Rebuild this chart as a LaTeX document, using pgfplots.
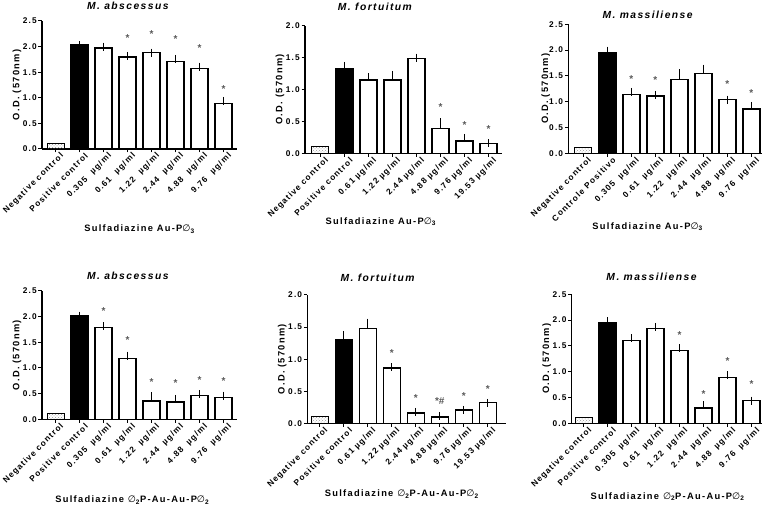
\documentclass[border=0pt]{standalone}
\usepackage{pgfplots}
\pgfplotsset{compat=1.18}
\usepackage{fontspec}
\usetikzlibrary{patterns}
\setmainfont{Liberation Sans}
\newfontfamily\lab[LetterSpace=14]{Liberation Sans}
\newfontfamily\dvs{DejaVu Sans}
\newcommand\tickfont{\lab\bfseries\fontsize{8.3}{9}\selectfont}
\newcommand\labfont{\lab\bfseries\fontsize{9.3}{11}\selectfont}
\newcommand\titfont{\lab\bfseries\itshape\fontsize{10.3}{12}\selectfont}
\newcommand\ophi{{\dvs\mdseries ∅}}
\pgfplotsset{
  panel/.style={
    scale only axis, anchor=south west,
    axis lines=left, axis line style={-, line width=1.4pt},
    enlargelimits=false, ymin=0, clip=false,
    xtick={0,...,7}, tick align=outside, major tick length=3.5pt,
    tick style={black, line width=1pt},
    /pgf/number format/assume math mode=true,
    ticklabel style={font=\tickfont},
    x tick label style={xshift=8pt, yshift=-1pt, rotate=45, anchor=east, inner sep=1.5pt},
    y tick label style={inner sep=1.5pt},
    yticklabel style={/pgf/number format/.cd, fixed, fixed zerofill, precision=1},
    ytick distance=0.5,
    bar width=17pt,
    title style={font=\titfont, anchor=center},
    xlabel style={font=\labfont, anchor=center},
    ylabel style={font=\labfont, anchor=center, at={(rel axis cs:0,0.5)}, yshift=25pt},
    ylabel={O.D. (570nm)},
  },
  negbar/.style={ybar, bar shift=0pt, draw=black, line width=0.8pt, pattern=crosshatch dots, pattern color=gray!80},
  posbar/.style={ybar, bar shift=0pt, draw=black, fill=black, line width=1.4pt,
    error bars/.cd, y dir=plus, y explicit, error bar style={black, line width=1.1pt},
    error mark options={black, line width=1.1pt, mark size=4pt}},
  whbar/.style={ybar, bar shift=0pt, draw=black, fill=white, line width=1.4pt,
    error bars/.cd, y dir=plus, y explicit, error bar style={black, line width=1.1pt},
    error mark options={black, line width=1.1pt, mark size=4pt}},
  stars/.style={draw=none, mark=none, nodes near coords, point meta=explicit symbolic,
    nodes near coords align=center,
    every node near coord/.append style={font=\bfseries\fontsize{10}{10}\selectfont, text=gray!70!black, inner sep=0pt}},
}
\begin{document}
\begin{tikzpicture}[x=1pt,y=1pt]
\path[use as bounding box] (0,0) rectangle (766,506);

% Panel 1
\begin{axis}[panel, at={(42pt,357pt)}, width=195pt, height=128pt,
  xmin=-0.5625, xmax=7.5625, ymax=2.5,
  xticklabels={Negative control, Positive control, 0.305\ \ µg/ml, 0.61\ \ µg/ml, 1.22\ \ µg/ml, 2.44\ \ µg/ml, 4.88\ \ µg/ml, 9.76\ \ µg/ml},
  title={M. abscessus}, title style={at={(rel axis cs:0.44,1)}, yshift=9pt},
  xlabel={Sulfadiazine Au-P\ophi\textsubscript{3}}, xlabel style={at={(rel axis cs:0.5,0)}, yshift=-80pt}]
\addplot[negbar] coordinates {(0,0.10)};
\addplot[posbar] coordinates {(1,2.03) +- (0,0)};
\addplot[whbar] coordinates {(2,1.97) +- (0,0.03) (3,1.80) +- (0,0.02) (4,1.88) +- (0,0) (5,1.71) +- (0,0.05) (6,1.57) +- (0,0.04) (7,0.89) +- (0,0.05)};
\addplot[stars] coordinates {(3,2.17) [*] (4,2.24) [*] (5,2.15) [*] (6,1.98) [*] (7,1.17) [*]};
\end{axis}

% Panel 2
\begin{axis}[panel, at={(305pt,352.7pt)}, width=197pt, height=127.6pt,
  xmin=-0.64, xmax=7.56, ymax=2.0,
  xticklabels={Negative control, Positive control, 0.61 µg/ml, 1.22 µg/ml, 2.44 µg/ml, 4.88 µg/ml, 9.76 µg/ml, 19.53 µg/ml},
  title={M. fortuitum}, title style={at={(rel axis cs:0.355,1)}, yshift=13pt},
  xlabel={Sulfadiazine Au-P\ophi\textsubscript{3}}, xlabel style={at={(rel axis cs:0.385,0)}, yshift=-68.4pt}]
\addplot[negbar] coordinates {(0,0.11)};
\addplot[posbar] coordinates {(1,1.32) +- (0,0.05)};
\addplot[whbar] coordinates {(2,1.15) +- (0,0.04) (3,1.15) +- (0,0.08) (4,1.49) +- (0,0.01) (5,0.39) +- (0,0.10) (6,0.19) +- (0,0.05) (7,0.15) +- (0,0.01)};
\addplot[stars] coordinates {(5,0.72) [*] (6,0.44) [*] (7,0.38) [*]};
\end{axis}

% Panel 3
\begin{axis}[panel, at={(568.3pt,352.7pt)}, width=193.4pt, height=129pt,
  xmin=-0.625, xmax=7.43, ymax=2.5,
  xticklabels={Negative control, Controle Positivo, 0.305\ \ µg/ml, 0.61\ \ µg/ml, 1.22\ \ µg/ml, 2.44\ \ µg/ml, 4.88\ \ µg/ml, 9.76\ \ µg/ml},
  title={M. massiliense}, title style={at={(rel axis cs:0.41,1)}, yshift=3.6pt},
  ylabel style={yshift=-2.5pt},
  xlabel={Sulfadiazine Au-P\ophi\textsubscript{3}}, xlabel style={at={(rel axis cs:0.41,0)}, yshift=-73.4pt}]
\addplot[negbar] coordinates {(0,0.12)};
\addplot[posbar] coordinates {(1,1.95) +- (0,0.04)};
\addplot[whbar] coordinates {(2,1.14) +- (0,0.05) (3,1.11) +- (0,0.02) (4,1.43) +- (0,0.12) (5,1.55) +- (0,0.09) (6,1.04) +- (0,0) (7,0.86) +- (0,0.06)};
\addplot[stars] coordinates {(2,1.44) [*] (3,1.41) [*] (6,1.34) [*] (7,1.16) [*]};
\end{axis}

% Panel 4
\begin{axis}[panel, at={(42pt,86.7pt)}, width=195pt, height=128.3pt,
  xmin=-0.5625, xmax=7.5625, ymax=2.5,
  xticklabels={Negative control, Positive control, 0.305\ \ µg/ml, 0.61\ \ µg/ml, 1.22\ \ µg/ml, 2.44\ \ µg/ml, 4.88\ \ µg/ml, 9.76\ \ µg/ml},
  title={M. abscessus}, title style={at={(rel axis cs:0.44,1)}, yshift=9.3pt},
  xlabel={Sulfadiazine \ophi\textsubscript{2}P-Au-Au-P\ophi\textsubscript{2}}, xlabel style={at={(rel axis cs:0.463,0)}, yshift=-80.7pt}]
\addplot[negbar] coordinates {(0,0.11)};
\addplot[posbar] coordinates {(1,2.01) +- (0,0.01)};
\addplot[whbar] coordinates {(2,1.79) +- (0,0.02) (3,1.19) +- (0,0.05) (4,0.36) +- (0,0.09) (5,0.34) +- (0,0.06) (6,0.46) +- (0,0.03) (7,0.43) +- (0,0.03)};
\addplot[stars] coordinates {(2,2.10) [*] (3,1.55) [*] (4,0.73) [*] (5,0.70) [*] (6,0.77) [*] (7,0.75) [*]};
\end{axis}

% Panel 5
\begin{axis}[panel, at={(307.3pt,82.7pt)}, width=198.4pt, height=128.3pt,
  xmin=-0.52, xmax=7.75, ymax=2.0,
  xticklabels={Negative control, Positive control, 0.61 µg/ml, 1.22 µg/ml, 2.44 µg/ml, 4.88 µg/ml, 9.76 µg/ml, 19.53 µg/ml},
  title={M. fortuitum}, title style={at={(rel axis cs:0.354,1)}, yshift=11.5pt},
  xlabel={Sulfadiazine \ophi\textsubscript{2}P-Au-Au-P\ophi\textsubscript{2}}, xlabel style={at={(rel axis cs:0.476,0)}, yshift=-70.8pt}]
\addplot[negbar] coordinates {(0,0.10)};
\addplot[posbar] coordinates {(1,1.31) +- (0,0.07)};
\addplot[whbar] coordinates {(2,1.48) +- (0,0.09) (3,0.86) +- (0,0.01) (4,0.16) +- (0,0.02) (5,0.10) +- (0,0.01) (6,0.21) +- (0,0) (7,0.32) +- (0,0)};
\addplot[stars] coordinates {(3,1.10) [*] (4,0.40) [*] (5,0.34) [*\#] (6,0.43) [*] (7,0.54) [*]};
\end{axis}

% Panel 6
\begin{axis}[panel, at={(571.7pt,82.7pt)}, width=190pt, height=129pt,
  xmin=-0.5, xmax=7.42, ymax=2.5,
  xticklabels={Negative control, Positive control, 0.305\ \ µg/ml, 0.61\ \ µg/ml, 1.22\ \ µg/ml, 2.44\ \ µg/ml, 4.88\ \ µg/ml, 9.76\ \ µg/ml},
  title={M. massiliense}, title style={at={(rel axis cs:0.42,1)}, yshift=11.6pt},
  xlabel={Sulfadiazine \ophi\textsubscript{2}P-Au-Au-P\ophi\textsubscript{2}}, xlabel style={at={(rel axis cs:0.504,0)}, yshift=-73.4pt}]
\addplot[negbar] coordinates {(0,0.12)};
\addplot[posbar] coordinates {(1,1.94) +- (0,0.04)};
\addplot[whbar] coordinates {(2,1.60) +- (0,0.05) (3,1.84) +- (0,0.03) (4,1.41) +- (0,0.04) (5,0.30) +- (0,0.05) (6,0.89) +- (0,0.04) (7,0.44) +- (0,0)};
\addplot[stars] coordinates {(4,1.71) [*] (5,0.57) [*] (6,1.21) [*] (7,0.76) [*]};
\end{axis}
\end{tikzpicture}
\end{document}
